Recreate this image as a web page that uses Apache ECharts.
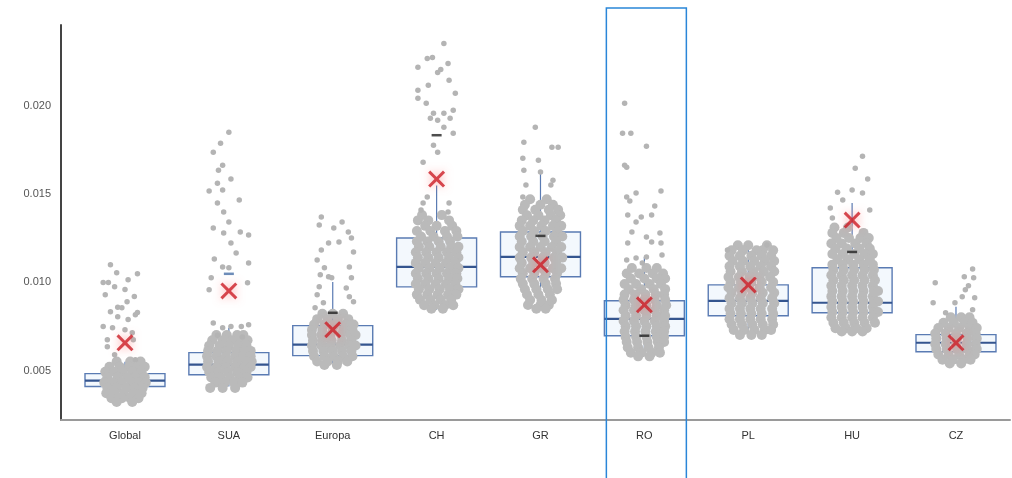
<!DOCTYPE html>
<html><head><meta charset="utf-8">
<script src="https://cdn.jsdelivr.net/npm/echarts@6/dist/echarts.min.js"></script>
<style>html,body{margin:0;padding:0;background:#fff}#c{width:1012px;height:478px}</style>
</head><body><div id="c"></div>
<script>
const categories = ['Global','SUA','Europa','CH','GR','RO','PL','HU','CZ'];
const yTicks = [0.005, 0.010, 0.015, 0.020];
const whiskerLow  = [0.0034, 0.0041, 0.0054, 0.00845, 0.00845, 0.0059, 0.0071, 0.0073, 0.0054];
const q1          = [0.0041, 0.00477, 0.00585, 0.00975, 0.01032, 0.00698, 0.00811, 0.00828, 0.00607];
const median      = [0.00443, 0.00534, 0.00647, 0.01088, 0.01145, 0.00794, 0.00896, 0.00885, 0.00658];
const q3          = [0.00483, 0.00602, 0.00755, 0.01252, 0.01286, 0.00896, 0.00986, 0.01083, 0.00704];
const whiskerHigh = [0.0055, 0.00743, 0.01003, 0.0155, 0.0162, 0.01145, 0.01201, 0.0145, 0.00862];
const means       = [0.00658, 0.00952, 0.00732, 0.01586, 0.0110, 0.00873, 0.00986, 0.01354, 0.00658];
const dashCat = [1, 2, 3, 4, 5, 7];
const dashVal = [0.01049, 0.00828, 0.01835, 0.01264, 0.00698, 0.01173];

// sparse points: [x jitter, value]
const globalSparse = [[-0.14,0.0110],[-0.08,0.01055],[0.12,0.0105],[-0.21,0.0100],[-0.16,0.0100],[-0.10,0.00975],[0.03,0.01015],[-0.19,0.0093],[0.00,0.0096],[0.09,0.0092],[-0.07,0.0086],[-0.03,0.00857],[0.02,0.0089],[-0.14,0.00834],[0.12,0.0083],[0.10,0.00817],[-0.07,0.00806],[0.03,0.0079],[-0.21,0.0075],[-0.12,0.00743],[0.00,0.00732],[0.07,0.00715],[-0.17,0.00675],[0.08,0.00675],[-0.17,0.00636],[0.10,0.00562],[-0.10,0.0059]];
const suaSparse = [[0.00,0.01852],[-0.08,0.0179],[-0.15,0.01738],[-0.06,0.01665],[-0.10,0.01637],[0.02,0.01586],[-0.11,0.01563],[-0.19,0.01518],[-0.06,0.01524],[0.10,0.01467],[-0.11,0.0145],[-0.05,0.01399],[0.00,0.01343],[-0.15,0.01309],[-0.05,0.0128],[0.11,0.01286],[0.19,0.01269],[0.02,0.01224],[0.07,0.01167],[-0.14,0.01133],[0.19,0.01111],[-0.06,0.01088],[0.00,0.01083],[-0.17,0.01026],[0.18,0.00998],[-0.19,0.00958],[-0.15,0.0077],[-0.06,0.00743],[0.02,0.0075],[0.12,0.0075],[0.19,0.0076],[0.13,0.0069],[-0.11,0.0070]];
const europaSparse = [[-0.11,0.01371],[-0.13,0.01326],[0.01,0.01309],[0.09,0.01343],[0.15,0.01286],[0.18,0.01252],[-0.04,0.01224],[0.06,0.0123],[-0.11,0.01184],[0.20,0.01173],[-0.15,0.01128],[-0.08,0.01083],[0.16,0.01088],[-0.12,0.01043],[-0.04,0.01032],[-0.01,0.01026],[0.18,0.01026],[-0.13,0.00975],[0.13,0.00969],[-0.15,0.0093],[0.16,0.00919],[0.20,0.0089],[-0.09,0.00885],[-0.17,0.00856]];
const chSparse = [[0.07,0.02355],[-0.09,0.0227],[-0.04,0.02276],[0.11,0.02242],[-0.18,0.0222],[0.01,0.02191],[0.04,0.02208],[0.12,0.02146],[-0.08,0.02118],[-0.18,0.0209],[-0.18,0.02044],[0.18,0.02073],[-0.10,0.02016],[0.16,0.01976],[-0.03,0.01959],[0.07,0.01959],[-0.06,0.01931],[0.01,0.0192],[0.13,0.01931],[0.07,0.0188],[0.16,0.01846],[-0.03,0.01778],[0.01,0.01739],[-0.13,0.01682],[-0.09,0.01484],[-0.13,0.0145],[0.12,0.0145],[-0.15,0.01411],[0.11,0.01399]];
const grSparse = [[-0.05,0.0188],[-0.16,0.01795],[0.11,0.01767],[0.17,0.01767],[-0.17,0.01705],[-0.02,0.01693],[-0.16,0.01637],[0.00,0.01626],[0.12,0.0158],[-0.14,0.01552],[0.10,0.01552],[-0.17,0.01484]];
const roSparse = [[-0.19,0.02016],[-0.21,0.01846],[-0.13,0.01846],[0.02,0.01773],[-0.19,0.01665],[-0.17,0.01654],[-0.17,0.01484],[-0.14,0.01462],[-0.08,0.01507],[0.16,0.01518],[0.10,0.01433],[-0.16,0.01382],[-0.03,0.01371],[0.07,0.01382],[-0.08,0.01343],[-0.12,0.01286],[0.02,0.01258],[0.15,0.0128],[0.07,0.0123],[0.16,0.01224],[-0.16,0.01224],[0.17,0.01156],[-0.08,0.01139],[-0.17,0.01128],[-0.02,0.01111],[0.02,0.01145]];
const plSparse = [[0.18,0.01213],[-0.20,0.01184]];
const huSparse = [[0.10,0.01716],[0.03,0.01648],[0.15,0.01586],[-0.14,0.01512],[0.00,0.01524],[0.10,0.01507],[-0.09,0.01467],[-0.21,0.01422],[-0.19,0.01365],[0.17,0.01411]];
const czSparse = [[0.16,0.01077],[0.08,0.01032],[0.17,0.01026],[0.12,0.00981],[-0.20,0.00998],[0.09,0.00958],[0.06,0.00919],[0.18,0.00913],[-0.22,0.00885],[-0.01,0.00885],[0.16,0.00845],[-0.10,0.00828]];

// dense clouds: [value, [x jitters]]
const globalDense = [[0.00552,[-0.08,0.05,0.15]],[0.00522,[-0.15,-0.05,0.04,0.12,0.19]],[0.00493,[-0.19,-0.10,-0.02,0.07,0.16]],[0.00463,[-0.17,-0.07,0.02,0.10,0.19]],[0.00432,[-0.20,-0.12,-0.03,0.06,0.14,0.20]],[0.00402,[-0.17,-0.08,0.01,0.09,0.17]],[0.00372,[-0.18,-0.10,-0.01,0.08,0.16]],[0.00343,[-0.13,-0.03,0.05,0.13]],[0.00322,[-0.08,0.07]]];
const suaDense = [[0.00702,[-0.12,-0.02,0.08,0.14]],[0.00672,[-0.16,-0.06,0.03,0.11,0.18]],[0.00641,[-0.19,-0.09,0.00,0.09,0.17]],[0.00612,[-0.20,-0.11,-0.02,0.07,0.15,0.21]],[0.00581,[-0.21,-0.12,-0.03,0.06,0.14,0.21]],[0.00552,[-0.20,-0.10,-0.01,0.08,0.17,0.22]],[0.00521,[-0.21,-0.12,-0.03,0.06,0.15,0.21]],[0.00492,[-0.19,-0.10,-0.01,0.08,0.17]],[0.00461,[-0.17,-0.08,0.01,0.10,0.18]],[0.00432,[-0.13,-0.04,0.05,0.13]],[0.00402,[-0.18,-0.06,0.06]]];
const europaDense = [[0.00822,[-0.10,0.00,0.10]],[0.00792,[-0.15,-0.05,0.05,0.15]],[0.00761,[-0.18,-0.08,0.02,0.12,0.20]],[0.00731,[-0.20,-0.10,0.00,0.10,0.19]],[0.00702,[-0.20,-0.11,-0.02,0.08,0.17,0.22]],[0.00671,[-0.19,-0.10,-0.01,0.09,0.18]],[0.00642,[-0.20,-0.11,-0.02,0.07,0.16,0.22]],[0.00611,[-0.19,-0.09,0.00,0.09,0.18]],[0.00582,[-0.18,-0.08,0.01,0.10,0.19]],[0.00552,[-0.15,-0.05,0.05,0.14]],[0.00532,[-0.08,0.04]]];
const chDense = [[0.01382,[-0.14,0.05]],[0.01352,[-0.18,-0.08,0.12]],[0.01321,[-0.11,0.00,0.15]],[0.01292,[-0.19,-0.06,0.08,0.19]],[0.01261,[-0.15,-0.03,0.10,0.20]],[0.01232,[-0.19,-0.09,0.02,0.13]],[0.01202,[-0.17,-0.07,0.04,0.14,0.21]],[0.01171,[-0.20,-0.10,0.00,0.10,0.19]],[0.01142,[-0.18,-0.08,0.02,0.12,0.21]],[0.01111,[-0.20,-0.11,-0.01,0.09,0.18]],[0.01082,[-0.17,-0.07,0.03,0.13,0.21]],[0.01051,[-0.20,-0.10,0.00,0.10,0.19]],[0.01022,[-0.18,-0.08,0.02,0.12,0.20]],[0.00991,[-0.20,-0.11,-0.01,0.09,0.18]],[0.00962,[-0.17,-0.07,0.03,0.13,0.21]],[0.00931,[-0.19,-0.09,0.01,0.11,0.19]],[0.00902,[-0.16,-0.06,0.04,0.14]],[0.00871,[-0.12,-0.02,0.08,0.16]],[0.00851,[-0.05,0.06]]];
const grDense = [[0.01472,[-0.10,0.06]],[0.01441,[-0.15,0.00,0.12]],[0.01412,[-0.17,-0.05,0.08,0.17]],[0.01381,[-0.13,-0.02,0.10,0.19]],[0.01352,[-0.18,-0.07,0.04,0.15]],[0.01321,[-0.20,-0.10,0.01,0.12,0.20]],[0.01292,[-0.17,-0.06,0.05,0.16]],[0.01261,[-0.20,-0.09,0.02,0.13,0.21]],[0.01232,[-0.18,-0.07,0.04,0.15]],[0.01201,[-0.20,-0.10,0.00,0.11,0.20]],[0.01172,[-0.17,-0.06,0.05,0.16]],[0.01141,[-0.20,-0.09,0.02,0.13,0.21]],[0.01112,[-0.18,-0.07,0.04,0.15]],[0.01081,[-0.20,-0.10,0.01,0.12,0.20]],[0.01052,[-0.17,-0.06,0.05,0.16]],[0.01021,[-0.19,-0.08,0.03,0.14]],[0.00992,[-0.17,-0.06,0.05,0.15]],[0.00961,[-0.15,-0.04,0.07,0.16]],[0.00932,[-0.13,-0.02,0.09]],[0.00901,[-0.10,0.01,0.11]],[0.00872,[-0.12,0.00,0.08]],[0.00851,[-0.04,0.05]]];
const roDense = [[0.01082,[-0.12,0.02,0.12]],[0.01051,[-0.17,-0.05,0.08,0.18]],[0.01022,[-0.13,0.00,0.12,0.20]],[0.00991,[-0.19,-0.08,0.05,0.16]],[0.00962,[-0.15,-0.03,0.09,0.20]],[0.00931,[-0.19,-0.09,0.01,0.11,0.19]],[0.00902,[-0.20,-0.10,0.00,0.10,0.20]],[0.00871,[-0.18,-0.08,0.02,0.12,0.21]],[0.00842,[-0.20,-0.10,0.00,0.10,0.19]],[0.00811,[-0.18,-0.08,0.02,0.12,0.20]],[0.00782,[-0.20,-0.10,0.00,0.10,0.19]],[0.00751,[-0.18,-0.08,0.02,0.12,0.20]],[0.00722,[-0.19,-0.09,0.01,0.11,0.19]],[0.00691,[-0.18,-0.08,0.02,0.12,0.19]],[0.00662,[-0.17,-0.07,0.03,0.13,0.19]],[0.00631,[-0.16,-0.06,0.04,0.14]],[0.00602,[-0.13,-0.03,0.07,0.15]],[0.00581,[-0.06,0.05]]];
const plDense = [[0.01211,[-0.10,0.00,0.18]],[0.01182,[-0.16,-0.05,0.08,0.14,0.24]],[0.01151,[-0.18,-0.08,0.03,0.13,0.22]],[0.01122,[-0.15,-0.05,0.06,0.16,0.25]],[0.01091,[-0.18,-0.08,0.02,0.12,0.22]],[0.01062,[-0.17,-0.06,0.05,0.15,0.25]],[0.01031,[-0.19,-0.09,0.01,0.11,0.21]],[0.01002,[-0.17,-0.07,0.03,0.13,0.24]],[0.00971,[-0.19,-0.09,0.01,0.11,0.22]],[0.00942,[-0.16,-0.06,0.04,0.14,0.25]],[0.00911,[-0.18,-0.08,0.02,0.12,0.23]],[0.00882,[-0.16,-0.06,0.04,0.14,0.25]],[0.00851,[-0.18,-0.08,0.02,0.12,0.23]],[0.00822,[-0.17,-0.07,0.03,0.13,0.24]],[0.00791,[-0.18,-0.08,0.02,0.12,0.23]],[0.00762,[-0.16,-0.06,0.04,0.14,0.24]],[0.00731,[-0.14,-0.04,0.06,0.16,0.22]],[0.00702,[-0.08,0.03,0.13]]];
const huDense = [[0.01312,[-0.17,-0.04]],[0.01281,[-0.19,-0.08,0.11]],[0.01252,[-0.15,-0.03,0.08,0.16]],[0.01221,[-0.20,-0.10,0.03,0.14]],[0.01192,[-0.16,-0.05,0.07,0.17]],[0.01161,[-0.19,-0.09,0.02,0.12,0.20]],[0.01132,[-0.14,-0.04,0.07,0.17]],[0.01101,[-0.19,-0.09,0.01,0.11,0.20]],[0.01072,[-0.18,-0.08,0.02,0.12,0.21]],[0.01041,[-0.20,-0.10,0.00,0.10,0.20]],[0.01012,[-0.18,-0.08,0.02,0.12,0.22]],[0.00981,[-0.20,-0.10,0.00,0.10,0.20]],[0.00952,[-0.19,-0.09,0.01,0.11,0.21,0.25]],[0.00921,[-0.20,-0.10,0.00,0.10,0.20]],[0.00892,[-0.19,-0.09,0.01,0.11,0.21,0.25]],[0.00861,[-0.20,-0.10,0.00,0.10,0.20]],[0.00832,[-0.19,-0.09,0.01,0.11,0.21,0.25]],[0.00801,[-0.20,-0.10,0.00,0.10,0.20]],[0.00772,[-0.18,-0.08,0.02,0.12,0.22]],[0.00741,[-0.16,-0.06,0.04,0.14]],[0.00722,[-0.10,0.00,0.10]]];
const czDense = [[0.00802,[-0.05,0.05,0.13]],[0.00771,[-0.12,-0.02,0.08,0.16]],[0.00742,[-0.17,-0.07,0.03,0.13,0.20]],[0.00711,[-0.20,-0.10,0.00,0.10,0.19]],[0.00682,[-0.19,-0.09,0.01,0.11,0.20]],[0.00651,[-0.20,-0.10,0.00,0.10,0.19]],[0.00622,[-0.19,-0.09,0.01,0.11,0.20]],[0.00591,[-0.17,-0.07,0.03,0.13,0.18]],[0.00562,[-0.13,-0.03,0.07,0.14]],[0.00541,[-0.06,0.05]]];

const sparseList = [globalSparse, suaSparse, europaSparse, chSparse, grSparse, roSparse, plSparse, huSparse, czSparse];
const denseList = [globalDense, suaDense, europaDense, chDense, grDense, roDense, plDense, huDense, czDense];

const sparseData = [];
sparseList.forEach((arr, i) => arr.forEach(p => sparseData.push([i + p[0], p[1]])));
const denseData = [];
denseList.forEach((rows, i) => rows.forEach(r => r[1].forEach(o => denseData.push([i + o, r[0]]))));

const boxData = categories.map((c, i) => [i, whiskerLow[i], q1[i], median[i], q3[i], whiskerHigh[i]]);
const BOX_W = 0.77;
const boxColor = '#5a7bb3';

const chart = echarts.init(document.getElementById('c'));
const font = '"Liberation Sans", Arial, sans-serif';
chart.setOption({
  animation: false,
  backgroundColor: '#fff',
  grid: { left: 61, right: 2, top: 25, bottom: 58 },
  xAxis: {
    type: 'value', min: -0.616, max: 8.52,
    axisLine: { show: true, onZero: false, lineStyle: { color: '#9a9a9a', width: 2 } },
    axisTick: { show: false }, splitLine: { show: false },
    axisLabel: { customValues: categories.map((c, i) => i), formatter: v => categories[Math.round(v)], color: '#333', fontSize: 11, fontFamily: font, margin: 10 }
  },
  yAxis: {
    type: 'value', min: 0.0022, max: 0.0246,
    axisLine: { show: true, onZero: false, lineStyle: { color: '#444', width: 2 } },
    axisTick: { show: false }, splitLine: { show: false },
    axisLabel: { customValues: yTicks, formatter: v => v.toFixed(3), color: '#555', fontSize: 11, fontFamily: font, margin: 10 }
  },
  series: [
    {
      type: 'custom', z: 1, data: boxData,
      encode: { x: 0, y: [1, 2, 3, 4, 5] },
      renderItem: (params, api) => {
        const i = api.value(0);
        const lo = api.coord([i, api.value(1)]);
        const b1 = api.coord([i, api.value(2)]);
        const md = api.coord([i, api.value(3)]);
        const b3 = api.coord([i, api.value(4)]);
        const hi = api.coord([i, api.value(5)]);
        const hw = api.size([BOX_W, 0])[0] / 2;
        const cx = lo[0];
        return { type: 'group', children: [
          { type: 'line', shape: { x1: cx, y1: b1[1], x2: cx, y2: lo[1] }, style: { stroke: boxColor, lineWidth: 1.2 } },
          { type: 'line', shape: { x1: cx, y1: b3[1], x2: cx, y2: hi[1] }, style: { stroke: boxColor, lineWidth: 1.2 } },
          { type: 'rect', shape: { x: cx - hw, y: b3[1], width: hw * 2, height: b1[1] - b3[1] }, style: { fill: '#f3f8fd', stroke: boxColor, lineWidth: 1.4 } },
          { type: 'line', shape: { x1: cx - hw, y1: md[1], x2: cx + hw, y2: md[1] }, style: { stroke: '#34558f', lineWidth: 2.2 } }
        ]};
      }
    },
    { type: 'scatter', z: 2, data: denseData, symbolSize: 10, itemStyle: { color: '#bababa', opacity: 1, borderWidth: 0 } },
    { type: 'scatter', z: 2, data: sparseData, symbolSize: 5.5, itemStyle: { color: '#b4b4b4', opacity: 1, borderWidth: 0 } },
    { type: 'scatter', z: 3, symbol: 'rect', symbolSize: [10, 2.5],
      data: dashCat.map((c, k) => ({ value: [c, dashVal[k]], itemStyle: { color: c === 1 ? '#4a70a8' : '#222' } })) },
    { type: 'scatter', z: 4,
      symbol: 'path://M2,0 L8,6 L14,0 L16,2 L10,8 L16,14 L14,16 L8,10 L2,16 L0,14 L6,8 L0,2 Z',
      symbolSize: 17,
      data: means.map((m, i) => [i, m]),
      itemStyle: { color: '#cc1d26', shadowBlur: 8, shadowColor: 'rgba(255,110,110,0.7)' } }
  ]
});
const roX = chart.convertToPixel({ xAxisIndex: 0 }, categories.indexOf('RO'));
chart.setOption({
  graphic: [{ type: 'rect', z: 10, shape: { x: roX - 38, y: 8, width: 80, height: 480 }, style: { fill: 'none', stroke: '#2a86d8', lineWidth: 1.5 } }]
});
</script></body></html>
